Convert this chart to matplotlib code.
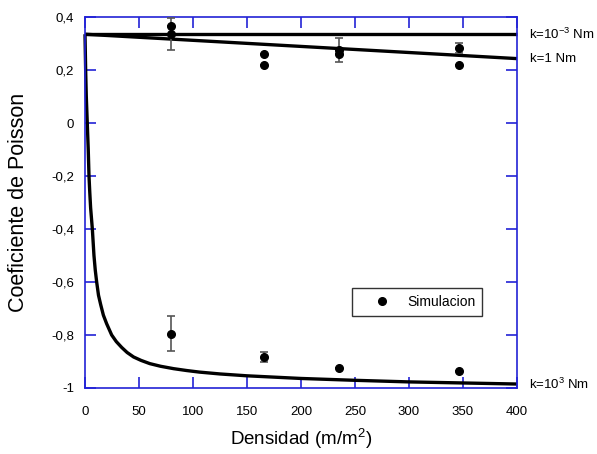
import matplotlib
matplotlib.use("Agg")
import matplotlib.pyplot as plt
from matplotlib.ticker import FixedLocator
from matplotlib.lines import Line2D

plt.rcParams['font.family'] = ['Liberation Sans', 'DejaVu Sans']
plt.rcParams['mathtext.fontset'] = 'custom'
plt.rcParams['mathtext.rm'] = 'Liberation Sans'

# Model curves for three spring constants
k_small_x = [0, 400]
k_small_y = [0.335, 0.335]

k_one_x = [0, 400]
k_one_y = [0.335, 0.243]

k_big_x = [0, 0.6, 1.2, 2.1, 3.0, 3.7, 4.4, 5.2, 6.0, 6.8, 8.3, 9.5, 10.8,
           12.5, 14.5, 17, 20, 24.7, 29, 34, 39, 45, 52, 60, 70, 82, 94,
           106, 125, 150, 175, 200, 250, 300, 350, 400]
k_big_y = [0.335, 0.2, 0.1, 0.0, -0.1, -0.2, -0.26, -0.32, -0.36, -0.4,
           -0.5, -0.555, -0.6, -0.65, -0.685, -0.725, -0.757, -0.8, -0.825,
           -0.847, -0.866, -0.883, -0.896, -0.908, -0.918, -0.927, -0.934,
           -0.94, -0.947, -0.954, -0.959, -0.964, -0.971, -0.977, -0.981,
           -0.985]

# Simulation results
sim_x = [80, 166, 235, 346]
sim_a = [0.367, 0.262, 0.274, 0.283]
sim_a_err = [0.0, 0.0, 0.045, 0.02]
sim_b = [0.337, 0.220, 0.259, 0.218]
sim_b_err = [0.06, 0.0, 0.0, 0.0]
sim_c = [-0.795, -0.883, -0.926, -0.934]
sim_c_err = [0.066, 0.02, 0.0, 0.0]

x_ticks = [0, 50, 100, 150, 200, 250, 300, 350, 400]
y_ticks = [0.4, 0.2, 0, -0.2, -0.4, -0.6, -0.8, -1]
y_tick_labels = ["0,4", "0,2", "0", "-0,2", "-0,4", "-0,6", "-0,8", "-1"]

fig = plt.figure(figsize=(5.97, 4.54), dpi=100)
ax = fig.add_axes([85 / 597, 1 - 388 / 454, 432 / 597, 371 / 454])

lw = 2.4
for cx, cy in [(k_small_x, k_small_y), (k_one_x, k_one_y), (k_big_x, k_big_y)]:
    ax.plot(cx, cy, color='black', lw=lw, solid_capstyle='butt',
            solid_joinstyle='round', clip_on=False)

eb = dict(fmt='o', color='black', ms=5.5, ecolor='#555555', elinewidth=1.2,
          capsize=3, capthick=1.2, zorder=5, clip_on=False)
ax.errorbar(sim_x, sim_a, yerr=sim_a_err, **eb)
ax.errorbar(sim_x, sim_b, yerr=sim_b_err, **eb)
ax.errorbar(sim_x, sim_c, yerr=sim_c_err, **eb)

ax.set_xlim(0, 400)
ax.set_ylim(-1, 0.4)
ax.xaxis.set_major_locator(FixedLocator(x_ticks))
ax.set_xticklabels([str(t) for t in x_ticks])
ax.yaxis.set_major_locator(FixedLocator(y_ticks))
ax.set_yticklabels(y_tick_labels)

blue = '#2222d6'
for side in ['left', 'right', 'top', 'bottom']:
    ax.spines[side].set_color(blue)
    ax.spines[side].set_linewidth(1.2)
ax.tick_params(axis='both', which='major', direction='in', length=8, width=1.2,
               color=blue, labelsize=9.5, top=True, right=True)
ax.tick_params(axis='y', pad=8)
ax.tick_params(axis='x', pad=13)

ax.set_xlabel('Densidad (m/m$^2$)', fontsize=13.5, labelpad=6)
ax.set_ylabel('Coeficiente de Poisson', fontsize=15.5, labelpad=16)

# Curve labels at the right edge
ax.text(411, 0.335, 'k=10$^{-3}$ Nm', fontsize=9.5, va='center', ha='left')
ax.text(412, 0.243, 'k=1 Nm', fontsize=9.5, va='center', ha='left')
ax.text(411, -0.985, 'k=10$^{3}$ Nm', fontsize=9.5, va='center', ha='left')

handle = Line2D([], [], marker='o', color='black', ms=5.5, linestyle='none')
leg = ax.legend([handle], ['Simulacion'], loc='upper left',
                bbox_to_anchor=(267 / 432, 1 - 271 / 371),
                fontsize=10, frameon=True, fancybox=False, framealpha=1,
                edgecolor='#333333', handletextpad=0.15, borderpad=0.5,
                handlelength=3.3, borderaxespad=0)
leg.get_frame().set_linewidth(1.0)

fig.savefig('out.png', dpi=100)
